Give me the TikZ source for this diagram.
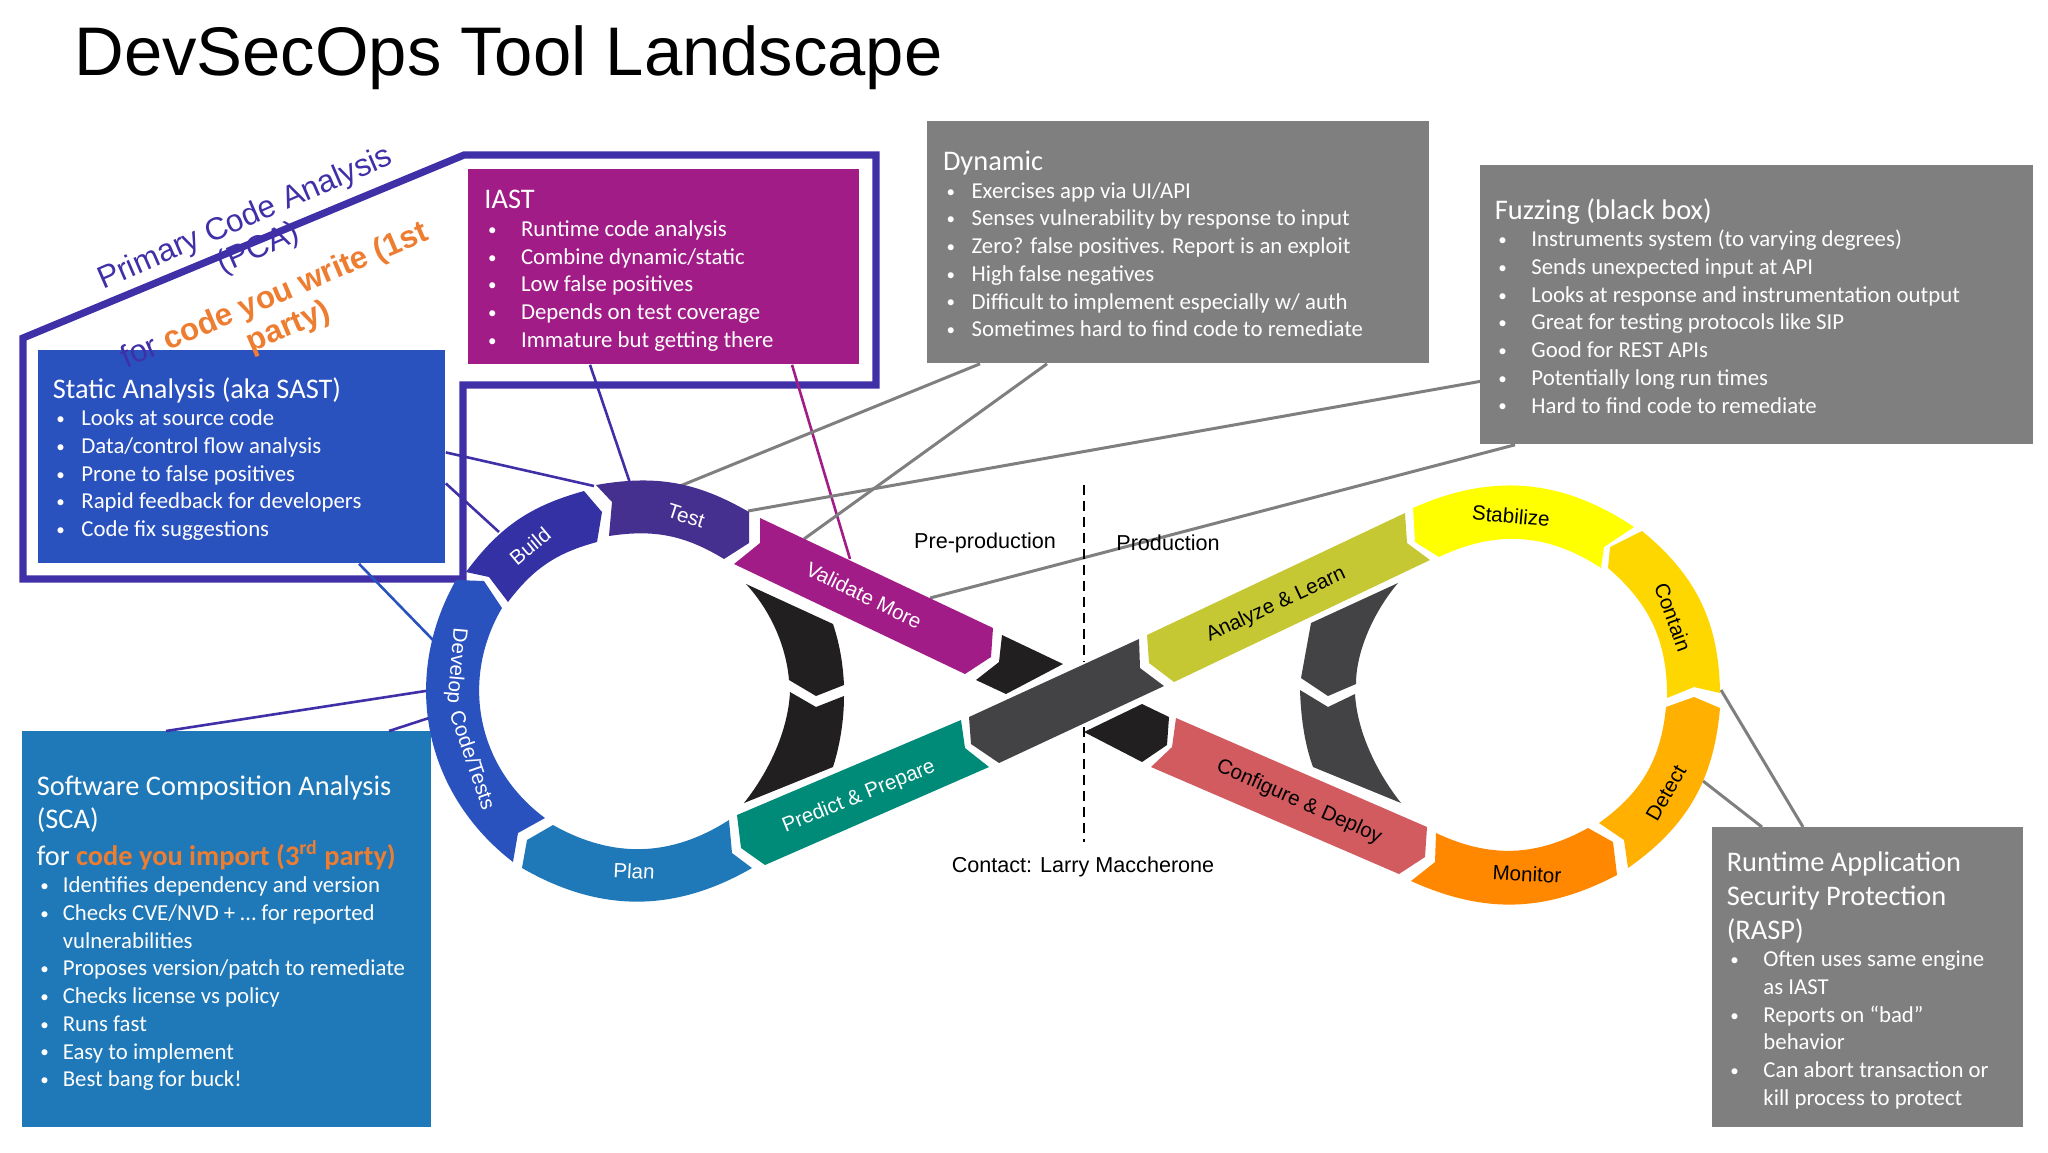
\documentclass[tikz,border=0pt]{standalone}
\usepackage{fontspec}
\setmainfont{Liberation Sans}
\newfontfamily\boxfont{Carlito}
\usetikzlibrary{positioning}
\definecolor{pcaBlue}{HTML}{4030A8}
\definecolor{sastBlue}{HTML}{2A52BE}
\definecolor{iastPurple}{HTML}{A21C87}
\definecolor{scaBlue}{HTML}{1F78B8}
\definecolor{boxGrey}{HTML}{7F7F7F}
\definecolor{codeOrange}{HTML}{ED7D31}
\definecolor{testViolet}{HTML}{46308F}
\definecolor{buildBlue}{HTML}{3431A5}
\definecolor{predictGreen}{HTML}{008B79}
\definecolor{arrowBlack}{HTML}{221F20}
\definecolor{barGrey}{HTML}{434244}
\definecolor{analyzeOlive}{HTML}{C5C832}
\definecolor{stabilizeYellow}{HTML}{FFFF00}
\definecolor{containGold}{HTML}{FFD700}
\definecolor{detectAmber}{HTML}{FFB000}
\definecolor{monitorOrange}{HTML}{FF8800}
\definecolor{configureRed}{HTML}{D15B5F}
\newlength\bulin
\newcommand{\bul}[1]{\hspace*{1.8pt}\makebox[\dimexpr\bulin-1.8pt][l]{\raisebox{0.6pt}{\fontsize{8.5}{8.5}\selectfont\textbullet}}#1}
\newcommand{\cont}[1]{\hspace*{\bulin}#1}
\newcommand{\head}[1]{{\fontsize{14.2}{17}\selectfont #1}}

\begin{document}
\begin{tikzpicture}[x=0.5pt,y=-0.5pt]
	\tikzstyle{box} = [anchor=north west, inner sep=0pt, text=white]
	\tikzstyle{boxText} = [anchor=north west, inner sep=0pt, text=white, align=left, font={\boxfont\fontsize{11.4}{13.85}\selectfont}, execute at begin node={\setlength\bulin{14.3pt}}]
	\tikzstyle{wide} = [execute at begin node={\setlength\bulin{18.3pt}}]
	\tikzstyle{narrow} = [execute at begin node={\setlength\bulin{13pt}}]
	\tikzstyle{link} = [line width=1.5pt, boxGrey]
	\tikzstyle{linkPca} = [line width=1.3pt, pcaBlue]
	\tikzstyle{stage} = [inner sep=0pt, font={\fontsize{10.3}{12}\selectfont}]
	\tikzstyle{stageW} = [stage, text=white]
	\tikzstyle{caption} = [inner sep=0pt, font={\fontsize{10.8}{12}\selectfont}]
	\useasboundingbox (0,0) rectangle (2048,1152);

	% boxes
	\node[box, fill=sastBlue, minimum width=203.5pt, minimum height=106.5pt] (static) at (38,350) {};
	\node[box, fill=iastPurple, minimum width=195.5pt, minimum height=97.5pt] (iast) at (468,169) {};
	\node[box, fill=boxGrey, minimum width=251pt, minimum height=121pt] (dynamic) at (927,121) {};
	\node[box, fill=boxGrey, minimum width=276.5pt, minimum height=139.5pt] (fuzzing) at (1480,165) {};
	\node[box, fill=scaBlue, minimum width=204.5pt, minimum height=198pt] (sca) at (22,731) {};
	\node[box, fill=boxGrey, minimum width=155.5pt, minimum height=150pt] (rasp) at (1712,827) {};

	% points on the loop where the lines land
	\coordinate (testA) at (594,486);
	\coordinate (testB) at (630,483);
	\coordinate (testC) at (680,486);
	\coordinate (testD) at (748,511);
	\coordinate (buildA) at (499,532);
	\coordinate (developA) at (434,641);
	\coordinate (developB) at (432,690);
	\coordinate (developC) at (432,717);
	\coordinate (validA) at (850,559);
	\coordinate (validB) at (804,539);
	\coordinate (validC) at (930,598);
	\coordinate (containA) at (1721,690);
	\coordinate (detectA) at (1703,781);
	\coordinate (dashTop) at (1084,485);
	\coordinate (dashMidA) at (1084,662);
	\coordinate (dashMidB) at (1084,727);
	\coordinate (dashEnd) at (1084,842);

	% outline round the code analysis boxes
	\draw[pcaBlue, line width=3.6pt, miter limit=10] (23,338) -- (464,155) -- (876,155) -- (876,385) -- (463,385) -- (463,579) -- (23,579) -- cycle;

	\draw[linkPca] ([yshift=2.25pt]static.east) -- (testA);
	\draw[linkPca] ([yshift=-13.25pt]static.east) -- (buildA);
	\draw[linkPca, sastBlue] ([xshift=160.5pt]static.south west) -- (developA);
	\draw[linkPca] ([xshift=61pt]iast.south west) -- (testB);
	\draw[linkPca, iastPurple] ([xshift=162pt]iast.south west) -- (validA);
	\draw[link] ([xshift=26.5pt]dynamic.south west) -- (testC);
	\draw[link] ([xshift=60pt]dynamic.south west) -- (validB);
	\draw[link] ([yshift=-38.25pt]fuzzing.west) -- (testD);
	\draw[link] ([xshift=17.5pt]fuzzing.south west) -- (validC);
	\draw[linkPca] ([xshift=72pt]sca.north west) -- (developB);
	\draw[linkPca] ([xshift=183.5pt]sca.north west) -- (developC);
	\draw[link] ([xshift=45.5pt]rasp.north west) -- (containA);
	\draw[link] ([xshift=25pt]rasp.north west) -- (detectA);
	\draw[line width=1.2pt, dash pattern=on 5pt off 3pt] (dashTop) -- (dashMidA);
	\draw[line width=1.2pt, dash pattern=on 5pt off 3pt] (dashMidB) -- (dashEnd);

	% left loop
	\fill[testViolet] (596,485) to[bend left=20] (749,512) -- (749,543) -- (724,559) to[bend right=20] (609,536) -- (612,502) -- cycle;
	\fill[buildBlue] (584,491) to[bend right=19] (466,572) -- (489,577) -- (508,602) to[bend left=19] (597,542) -- (602,512) -- cycle;
	\fill[sastBlue] (456,580) to[bend right=41] (513,862) -- (518,833) -- (545,818) to[bend left=42] (502,608) -- (484,581) -- cycle;
	\fill[scaBlue] (522,868) to[bend right=30] (752,868) -- (732,853) -- (729,820) to[bend left=31] (553,825) -- (527,840) -- cycle;
	\fill[predictGreen] (737,815) -- (961,720) -- (965,748) -- (989,767) -- (765,865) -- (741,848) -- cycle;
	\fill[iastPurple] (760,518) -- (993,628) -- (991,657) -- (965,674) -- (734,564) -- (760,543) -- cycle;
	\fill[arrowBlack] (1002,635) -- (1063,664) -- (1006,694) -- (976,680) -- (999,662) -- cycle;
	\fill[arrowBlack] (1084,732) -- (1142,704) -- (1169,717) -- (1167,745) -- (1142,762) -- cycle;
	\fill[arrowBlack] (746,584) -- (833,624) .. controls (840,645) and (843,665) .. (844,685) -- (816,696) -- (789,680) .. controls (786,645) and (770,610) .. (746,584) -- cycle;
	\fill[arrowBlack] (790,692) -- (816,707) -- (844,696) .. controls (844,720) and (840,745) .. (833,767) -- (744,803) .. controls (770,770) and (788,730) .. (790,692) -- cycle;

	% middle bar and right loop
	\fill[barGrey] (969,717) -- (1139,639) -- (1140,668) -- (1164,686) -- (999,763) -- (971,744) -- cycle;
	\fill[analyzeOlive] (1147,635) -- (1405,513) -- (1407,543) -- (1430,560) -- (1174,682) -- (1149,663) -- cycle;
	\fill[stabilizeYellow] (1413,508) to[bend left=29] (1634,527) -- (1604,547) -- (1601,568) to[bend right=29.5] (1439,557) -- (1415,542) -- cycle;
	\fill[containGold] (1642,531) to[bend left=25] (1720,693) -- (1694,687) -- (1667,698) to[bend right=25] (1608,568) -- (1610,547) -- cycle;
	\fill[detectAmber] (1694,697) -- (1720,708) to[bend left=25] (1628,868) -- (1624,840) -- (1599,823) to[bend right=24.5] (1666,707) -- cycle;
	\fill[monitorOrange] (1436,833) to[bend right=27] (1588,828) -- (1613,842) -- (1617,875) to[bend left=26] (1411,881) -- (1435,862) -- cycle;
	\fill[configureRed] (1176,718) -- (1427,827) -- (1425,857) -- (1399,874) -- (1151,767) -- (1172,747) -- cycle;
	\fill[barGrey] (1398,583) -- (1311,623) -- (1301,678) -- (1328,696) -- (1356,684) .. controls (1356,650) and (1375,610) .. (1398,583) -- cycle;
	\fill[barGrey] (1300,690) -- (1328,707) -- (1355,694) .. controls (1357,730) and (1375,770) .. (1401,803) -- (1313,767) .. controls (1305,745) and (1301,720) .. (1300,690) -- cycle;

	% stage names
	\node[stageW, rotate=40] (buildL) at (530,546) {Build};
	\node[stageW, rotate=-18] (testL) at (686,516) {Test};
	\node[stageW, rotate=-26] (validL) at (864,595) {Validate More};
	\node[stageW, rotate=-95] (developL) at (456,666) {Develop};
	\node[stageW, rotate=-71] (developM) at (473,760) {Code/Tests};
	\node[stageW, rotate=-3] (planL) at (634,871) {Plan};
	\node[stageW, rotate=22] (predictL) at (859,797) {Predict \& Prepare};
	\node[stage, rotate=25] (analyzeL) at (1276,605) {Analyze \& Learn};
	\node[stage, rotate=-5] (stabilizeL) at (1511,516) {Stabilize};
	\node[stage, rotate=-70] (containL) at (1673,617) {Contain};
	\node[stage, rotate=60] (detectL) at (1666,793) {Detect};
	\node[stage, rotate=-3] (monitorL) at (1527,874) {Monitor};
	\node[stage, rotate=-24] (configureL) at (1299,802) {Configure \& Deploy};

	\node[caption] (preL) at (985,543) {Pre-production};
	\node[caption] (prodL) at (1168,543) {Production};
	\node[caption] (contactL) at (1083,867) {Contact: Larry Maccherone};

	\node[inner sep=0pt, anchor=base west, font={\fontsize{34.4}{36}\selectfont}] (titleL) at (74,75) {DevSecOps Tool Landscape};

	\node[inner sep=0pt, rotate=23.5, align=center, pcaBlue, font={\fontsize{15.7}{16.5}\selectfont}] (pcaL) at (252,234) {Primary Code Analysis\\(PCA)};
	\node[inner sep=0pt, rotate=23, align=center, pcaBlue, font={\fontsize{15.7}{17}\selectfont}] (forL) at (282,312) {for {\bfseries\color{codeOrange}code you write (1st}\\{\bfseries\color{codeOrange}party)}};

	% box texts
	\node[boxText] (staticT) at ([xshift=7.2pt,yshift=-13.5pt]static.north west) {\head{Static Analysis (aka SAST)}\\
		\bul{Looks at source code}\\
		\bul{Data/control flow analysis}\\
		\bul{Prone to false positives}\\
		\bul{Rapid feedback for developers}\\
		\bul{Code fix suggestions}};
	\node[boxText, wide] (iastT) at ([xshift=8pt,yshift=-10.5pt]iast.north west) {\head{IAST}\\
		\bul{Runtime code analysis}\\
		\bul{Combine dynamic/static}\\
		\bul{Low false positives}\\
		\bul{Depends on test coverage}\\
		\bul{Immature but getting there}};
	\node[boxText] (dynamicT) at ([xshift=7.8pt,yshift=-14.8pt]dynamic.north west) {\head{Dynamic}\\
		\bul{Exercises app via UI/API}\\
		\bul{Senses vulnerability by response to input}\\
		\bul{Zero? false positives. Report is an exploit}\\
		\bul{High false negatives}\\
		\bul{Difficult to implement especially w/ auth}\\
		\bul{Sometimes hard to find code to remediate}};
	\node[boxText, wide] (fuzzingT) at ([xshift=7.2pt,yshift=-16.5pt]fuzzing.north west) {\head{Fuzzing (black box)}\\
		\bul{Instruments system (to varying degrees)}\\
		\bul{Sends unexpected input at API}\\
		\bul{Looks at response and instrumentation output}\\
		\bul{Great for testing protocols like SIP}\\
		\bul{Good for REST APIs}\\
		\bul{Potentially long run times}\\
		\bul{Hard to find code to remediate}};
	\node[boxText, narrow] (scaT) at ([xshift=7.2pt,yshift=-22pt]sca.north west) {\head{Software Composition Analysis}\\[3pt]
		\head{(SCA)}\\[3pt]
		\head{for {\bfseries\color{codeOrange}code you import (3\textsuperscript{rd} party)}}\\
		\bul{Identifies dependency and version}\\
		\bul{Checks CVE/NVD + … for reported}\\
		\cont{vulnerabilities}\\
		\bul{Proposes version/patch to remediate}\\
		\bul{Checks license vs policy}\\
		\bul{Runs fast}\\
		\bul{Easy to implement}\\
		\bul{Best bang for buck!}};
	\node[boxText, wide] (raspT) at ([xshift=7.2pt,yshift=-12.3pt]rasp.north west) {\head{Runtime Application}\\[3pt]
		\head{Security Protection}\\[3pt]
		\head{(RASP)}\\
		\bul{Often uses same engine}\\
		\cont{as IAST}\\
		\bul{Reports on “bad”}\\
		\cont{behavior}\\
		\bul{Can abort transaction or}\\
		\cont{kill process to protect}};
\end{tikzpicture}
\end{document}
